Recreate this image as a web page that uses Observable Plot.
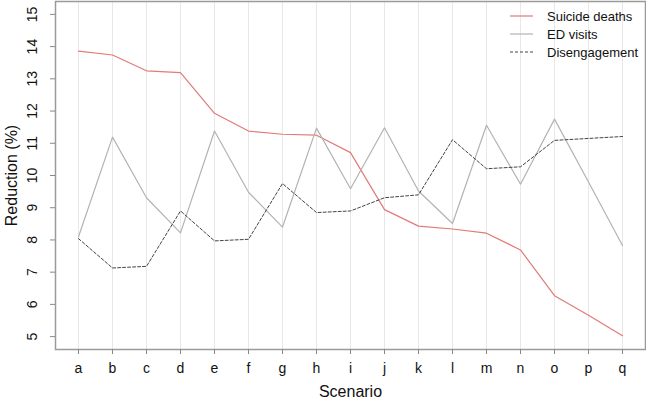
<!DOCTYPE html>
<html>
<head>
<meta charset="utf-8">
<script src="https://cdn.jsdelivr.net/npm/d3@7"></script>
<script src="https://cdn.jsdelivr.net/npm/@observablehq/plot@0.6"></script>
<style>
  html, body { margin: 0; padding: 0; background: #fff; }
  #wrap { position: relative; width: 646px; height: 401px; font-family: "Liberation Sans", Arial, sans-serif; }
  #legend { position: absolute; left: 510px; top: 7px; font-size: 13px; color: #111; }
  #legend .row { display: flex; align-items: center; height: 18px; }
  #legend svg { margin-right: 14px; }
</style>
</head>
<body>
<div id="wrap">
  <div id="chart"></div>
  <div id="legend"></div>
</div>
<script>
const scenarios = ["a","b","c","d","e","f","g","h","i","j","k","l","m","n","o","p","q"];
const suicideDeaths = [13.86,13.74,13.25,13.19,11.93,11.38,11.28,11.25,10.71,8.94,8.43,8.34,8.21,7.69,6.27,5.66,5.03];
const edVisits = [8.10,11.19,9.31,8.22,11.38,9.48,8.40,11.47,9.59,11.48,9.52,8.51,11.56,9.73,11.75,9.80,7.83];
const disengagement = [8.04,7.13,7.18,8.90,7.97,8.02,9.75,8.85,8.90,9.31,9.40,11.11,10.21,10.27,11.09,11.15,11.21];
const yTicks = [5,6,7,8,9,10,11,12,13,14,15];

const series = [
  {name: "Suicide deaths", values: suicideDeaths, stroke: "#e27a77", dash: null, width: 1.2},
  {name: "ED visits", values: edVisits, stroke: "#b3b3b3", dash: null, width: 1.2},
  {name: "Disengagement", values: disengagement, stroke: "#444444", dash: "3,2", width: 1}
];

const rows = series.flatMap(s => s.values.map((v, i) => ({scenario: scenarios[i], value: v, series: s.name})));

const chart = Plot.plot({
  width: 646,
  height: 401,
  marginLeft: 55,
  marginRight: 1,
  marginTop: 1,
  marginBottom: 52,
  style: {fontFamily: "'Liberation Sans', Arial, sans-serif", fontSize: "14px", color: "#111", background: "#fff"},
  x: {type: "point", domain: scenarios, padding: 0.64},
  y: {domain: [4.6, 15.4]},
  marks: [
    Plot.gridX(scenarios, {stroke: "#e8e8e8", strokeOpacity: 1}),
    ...series.map(s => Plot.line(rows.filter(r => r.series === s.name), {
      x: "scenario", y: "value", stroke: s.stroke, strokeWidth: s.width,
      strokeDasharray: s.dash
    })),
    Plot.frame({stroke: "#9a9a9a", strokeWidth: 1.5}),
    Plot.axisX({tickSize: 5, tickPadding: 9, fontSize: 14, stroke: "#888", label: "Scenario", labelAnchor: "center", labelArrow: "none", labelOffset: 47}),
    Plot.axisY(yTicks, {tickSize: 5, tickPadding: 14, tickRotate: -90, fontSize: 14, stroke: "#888", label: "Reduction (%)", labelAnchor: "center", labelArrow: "none", labelOffset: 50})
  ]
});
chart.querySelectorAll("[aria-label='x-axis label'] text, [aria-label='y-axis label'] text").forEach(t => t.setAttribute("font-size", "16px"));
document.getElementById("chart").appendChild(chart);

const legend = d3.select("#legend");
series.forEach(s => {
  const row = legend.append("div").attr("class", "row");
  const svg = row.append("svg").attr("width", 23).attr("height", 10);
  svg.append("line").attr("x1", 0).attr("x2", 23).attr("y1", 5).attr("y2", 5)
    .attr("stroke", s.stroke).attr("stroke-width", s.width).attr("stroke-dasharray", s.dash);
  row.append("span").text(s.name);
});
</script>
</body>
</html>
